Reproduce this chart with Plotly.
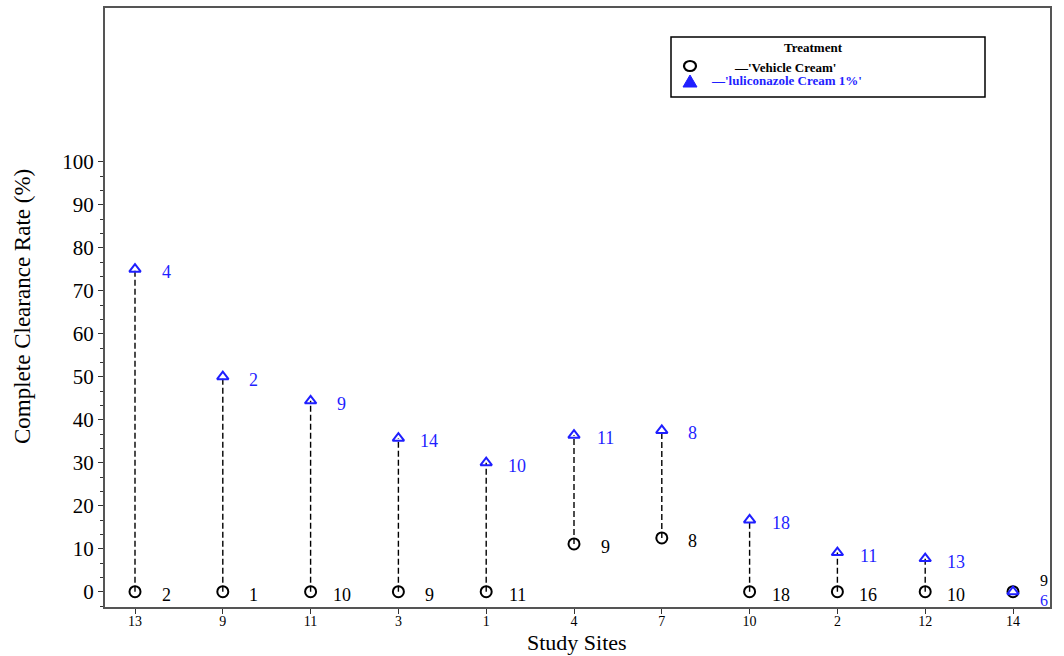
import plotly.graph_objects as go

sites = ["13", "9", "11", "3", "1", "4", "7", "10", "2", "12", "14"]
vehicle_rate = [0, 0, 0, 0, 0, 11.1, 12.5, 0, 0, 0, 0]
vehicle_n = [2, 1, 10, 9, 11, 9, 8, 18, 16, 10, 9]
active_rate = [75.0, 50.0, 44.4, 35.7, 30.0, 36.4, 37.5, 16.7, 9.1, 7.7, 0]
active_n = [4, 2, 9, 14, 10, 11, 8, 18, 11, 13, 6]

legend_title = "Treatment"
vehicle_name = "\u2014'Vehicle Cream'"
active_name = "\u2014'luliconazole Cream 1%'"
x_title = "Study Sites"
y_title = "Complete Clearance Rate (%)"

W, H = 1064, 656
L, R, T, B = 105, 1050, 8, 607
BLUE = "#1f1fff"
SERIF = "Liberation Serif, Times New Roman, serif"

xs = list(range(len(sites)))

fig = go.Figure()

# dashed connectors
lx, ly = [], []
for i, (v, a) in enumerate(zip(vehicle_rate, active_rate)):
    lx += [i, i, None]
    ly += [v, a, None]
fig.add_trace(go.Scatter(x=lx, y=ly, mode="lines",
                         line=dict(color="black", width=1.4, dash="6px,3px"),
                         showlegend=False, hoverinfo="skip"))

fig.add_trace(go.Scatter(x=xs, y=vehicle_rate, mode="markers",
                         marker=dict(symbol="circle-open", size=11, color="black",
                                     line=dict(width=2, color="black")),
                         showlegend=False))
fig.add_trace(go.Scatter(x=xs, y=active_rate, mode="markers",
                         marker=dict(symbol="triangle-up-open", size=10, color=BLUE,
                                     line=dict(width=2, color=BLUE)),
                         showlegend=False))

# n labels
for i in xs:
    same = abs(vehicle_rate[i] - active_rate[i]) < 1e-9
    fs = 16 if same else 18
    fig.add_annotation(x=i, y=vehicle_rate[i], xref="x", yref="y",
                       text=str(vehicle_n[i]), showarrow=False,
                       xanchor="center", yanchor="middle",
                       xshift=31, yshift=(11 if same else -3),
                       font=dict(family=SERIF, size=fs, color="black"))
    fig.add_annotation(x=i, y=active_rate[i], xref="x", yref="y",
                       text=str(active_n[i]), showarrow=False,
                       xanchor="center", yanchor="middle",
                       xshift=31, yshift=(-9 if same else -3),
                       font=dict(family=SERIF, size=fs, color=BLUE))

def px_x(p):
    return (p - L) / (R - L)

def px_y(p):
    return (B - p) / (B - T)

def paper_text(x, y, text, size, color, angle=0):
    fig.add_annotation(xref="paper", yref="paper", x=px_x(x), y=px_y(y),
                       xanchor="center", yanchor="middle", text=text,
                       showarrow=False, textangle=angle,
                       font=dict(family=SERIF, size=size, color=color))

# legend box
fig.add_shape(type="rect", xref="paper", yref="paper",
              x0=px_x(671), x1=px_x(985), y0=px_y(97), y1=px_y(37),
              line=dict(color="black", width=1.5), fillcolor="white")
paper_text(813, 48, "<b>" + legend_title + "</b>", 13, "black")
paper_text(785, 67, "<b>" + vehicle_name + "</b>", 13, "black")
paper_text(786, 81, "<b>" + active_name + "</b>", 13, BLUE)
fig.add_shape(type="circle", xref="paper", yref="paper",
              x0=px_x(684), x1=px_x(696), y0=px_y(71), y1=px_y(61),
              line=dict(color="black", width=2.2))
fig.add_shape(type="path", xref="paper", yref="paper",
              path="M {} {} L {} {} L {} {} Z".format(px_x(683), px_y(87), px_x(697), px_y(87),
                                                       px_x(690), px_y(75)),
              line=dict(color=BLUE, width=1), fillcolor=BLUE)

# axis titles
paper_text(577, 642, x_title, 22, "black")
paper_text(22, 307, y_title, 23, "black", angle=-90)

ymin = (591.7 - B) / 4.3
ymax = (591.7 - T) / 4.3
x_lo = -30.0 / 87.8
x_hi = 10 + 37.0 / 87.8

major = list(range(0, 101, 10))
minor_vals = [k * 10 / 3 for k in range(-1, 31) if k % 3 != 0]

fig.update_layout(
    width=W, height=H,
    margin=dict(l=L, r=W - R, t=T, b=H - B),
    paper_bgcolor="white", plot_bgcolor="white",
    showlegend=False,
    xaxis=dict(range=[x_lo, x_hi], tickmode="array", tickvals=xs, ticktext=sites,
               automargin=False, ticklabelstandoff=-5,
               showgrid=False, zeroline=False, showline=True, mirror=True,
               linecolor="#555555", linewidth=2, ticks="outside", ticklen=5,
               tickcolor="#333333", tickwidth=1,
               tickfont=dict(family=SERIF, size=14, color="black")),
    yaxis=dict(range=[ymin, ymax], tickmode="array", tickvals=major,
               automargin=False,
               showgrid=False, zeroline=False, showline=True, mirror=True,
               linecolor="#555555", linewidth=2, ticks="outside", ticklen=5,
               tickcolor="#333333", tickwidth=1,
               minor=dict(tickmode="array", tickvals=minor_vals, ticks="outside", ticklen=3,
                          tickcolor="#333333", showgrid=False),
               tickfont=dict(family=SERIF, size=21, color="black")),
)

fig.write_html("out.html")
